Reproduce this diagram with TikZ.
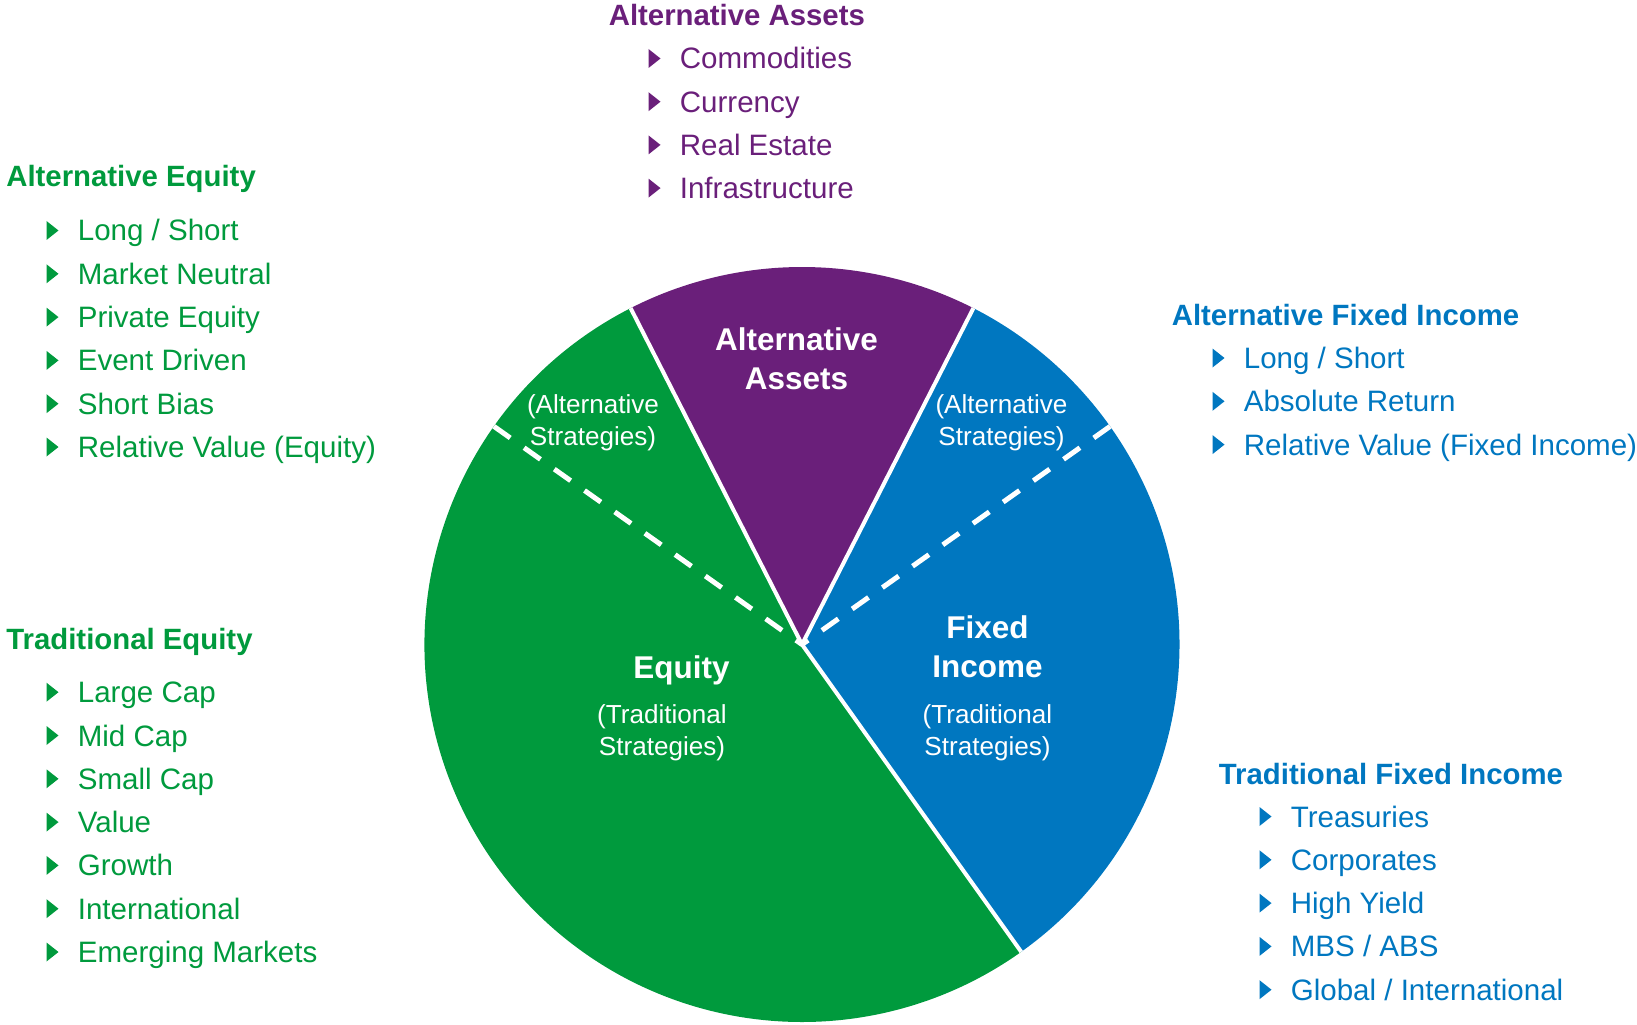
\documentclass[tikz,border=0pt]{standalone}
\usepackage{fontspec}
\setmainfont{Liberation Sans}
\usepackage{xcolor}
\usepackage{tikz}

\definecolor{eqgreen}{RGB}{0,154,61}
\definecolor{altpurple}{RGB}{106,31,122}
\definecolor{fiblue}{RGB}{0,119,192}

\begin{document}
\begin{tikzpicture}[
  head/.style={anchor=base west, inner sep=0pt, font=\fontsize{16.7}{20}\selectfont\bfseries},
  item/.style={anchor=base west, inner sep=0pt, font=\fontsize{16.8}{20}\selectfont},
  big/.style={text=white, align=center, inner sep=0pt, font=\fontsize{17.9}{22}\selectfont\bfseries},
  small/.style={text=white, align=center, inner sep=0pt, font=\fontsize{14.85}{18.4}\selectfont},
  split/.style={white, line width=0.08cm},
  halfsplit/.style={white, line width=0.1cm, dash pattern=on 0.4cm off 0.34cm}]
  \useasboundingbox (0,0) rectangle (32.74,20.48);
  \coordinate (c) at (16.04,7.59);

  % the pie
  \fill[fiblue] (c) -- ++(-54.5:7.55) arc[start angle=-54.5, end angle=63, radius=7.55] -- cycle;
  \fill[altpurple] (c) -- ++(63:7.55) arc[start angle=63, end angle=117, radius=7.55] -- cycle;
  \fill[eqgreen] (c) -- ++(117:7.55) arc[start angle=117, end angle=305.5, radius=7.55] -- cycle;
  \draw[split] (c) -- ++(63:7.55);
  \draw[split] (c) -- ++(117:7.55);
  \draw[split] (c) -- ++(-54.5:7.55);
  \draw[halfsplit] (c) ++(35.3:7.55) -- (c);
  \draw[halfsplit] (c) ++(144.7:7.55) -- (c);

  % labels inside the slices
  \node[big] (aalbl) at (15.93,13.31) {Alternative\\Assets};
  \node[big, anchor=base] (eqlbl) at (13.63,6.92) {Equity};
  \node[big] (filbl) at (19.75,7.54) {Fixed\\Income};
  \node[small] (eqsub) at (13.24,5.82) {(Traditional\\Strategies)};
  \node[small] (fisub) at (19.75,5.82) {(Traditional\\Strategies)};
  \node[small] (eqalt) at (11.86,12.02) {(Alternative\\Strategies)};
  \node[small] (fialt) at (20.03,12.02) {(Alternative\\Strategies)};

  % alternative assets
  \node[head, text=altpurple] (aahead) at (12.17,19.96) {Alternative Assets};
  \foreach \txt [count=\i] in {Commodities, Currency, Real Estate, Infrastructure} {
    \pgfmathsetmacro{\yc}{19.31-0.864*(\i-1)}
    \fill[altpurple] (12.97,\yc+0.19) -- (13.21,\yc) -- (12.97,\yc-0.19) -- cycle;
    \node[item, text=altpurple] (aa\i) at (13.59,\yc-0.21) {\txt};
  }

  % equity, left side
  \node[head, text=eqgreen] (aehead) at (0.12,16.74) {Alternative Equity};
  \foreach \txt [count=\i] in {Long / Short, Market Neutral, Private Equity,
      Event Driven, Short Bias, Relative Value (Equity)} {
    \pgfmathsetmacro{\yc}{15.87-0.866*(\i-1)}
    \fill[eqgreen] (0.93,\yc+0.19) -- (1.17,\yc) -- (0.93,\yc-0.19) -- cycle;
    \node[item, text=eqgreen] (ae\i) at (1.55,\yc-0.21) {\txt};
  }
  \node[head, text=eqgreen] (tehead) at (0.12,7.49) {Traditional Equity};
  \foreach \txt [count=\i] in {Large Cap, Mid Cap, Small Cap, Value, Growth,
      International, Emerging Markets} {
    \pgfmathsetmacro{\yc}{6.636-0.866*(\i-1)}
    \fill[eqgreen] (0.93,\yc+0.19) -- (1.17,\yc) -- (0.93,\yc-0.19) -- cycle;
    \node[item, text=eqgreen] (te\i) at (1.55,\yc-0.21) {\txt};
  }

  % fixed income, right side
  \node[head, text=fiblue] (afhead) at (23.43,13.96) {Alternative Fixed Income};
  \foreach \txt [count=\i] in {Long / Short, Absolute Return, Relative Value (Fixed Income)} {
    \pgfmathsetmacro{\yc}{13.32-0.866*(\i-1)}
    \fill[fiblue] (24.25,\yc+0.19) -- (24.49,\yc) -- (24.25,\yc-0.19) -- cycle;
    \node[item, text=fiblue] (af\i) at (24.87,\yc-0.21) {\txt};
  }
  \node[head, text=fiblue] (tfhead) at (24.37,4.80) {Traditional Fixed Income};
  \foreach \txt [count=\i] in {Treasuries, Corporates, High Yield, MBS / ABS,
      Global / International} {
    \pgfmathsetmacro{\yc}{4.15-0.866*(\i-1)}
    \fill[fiblue] (25.19,\yc+0.19) -- (25.43,\yc) -- (25.19,\yc-0.19) -- cycle;
    \node[item, text=fiblue] (tf\i) at (25.81,\yc-0.21) {\txt};
  }
\end{tikzpicture}
\end{document}
